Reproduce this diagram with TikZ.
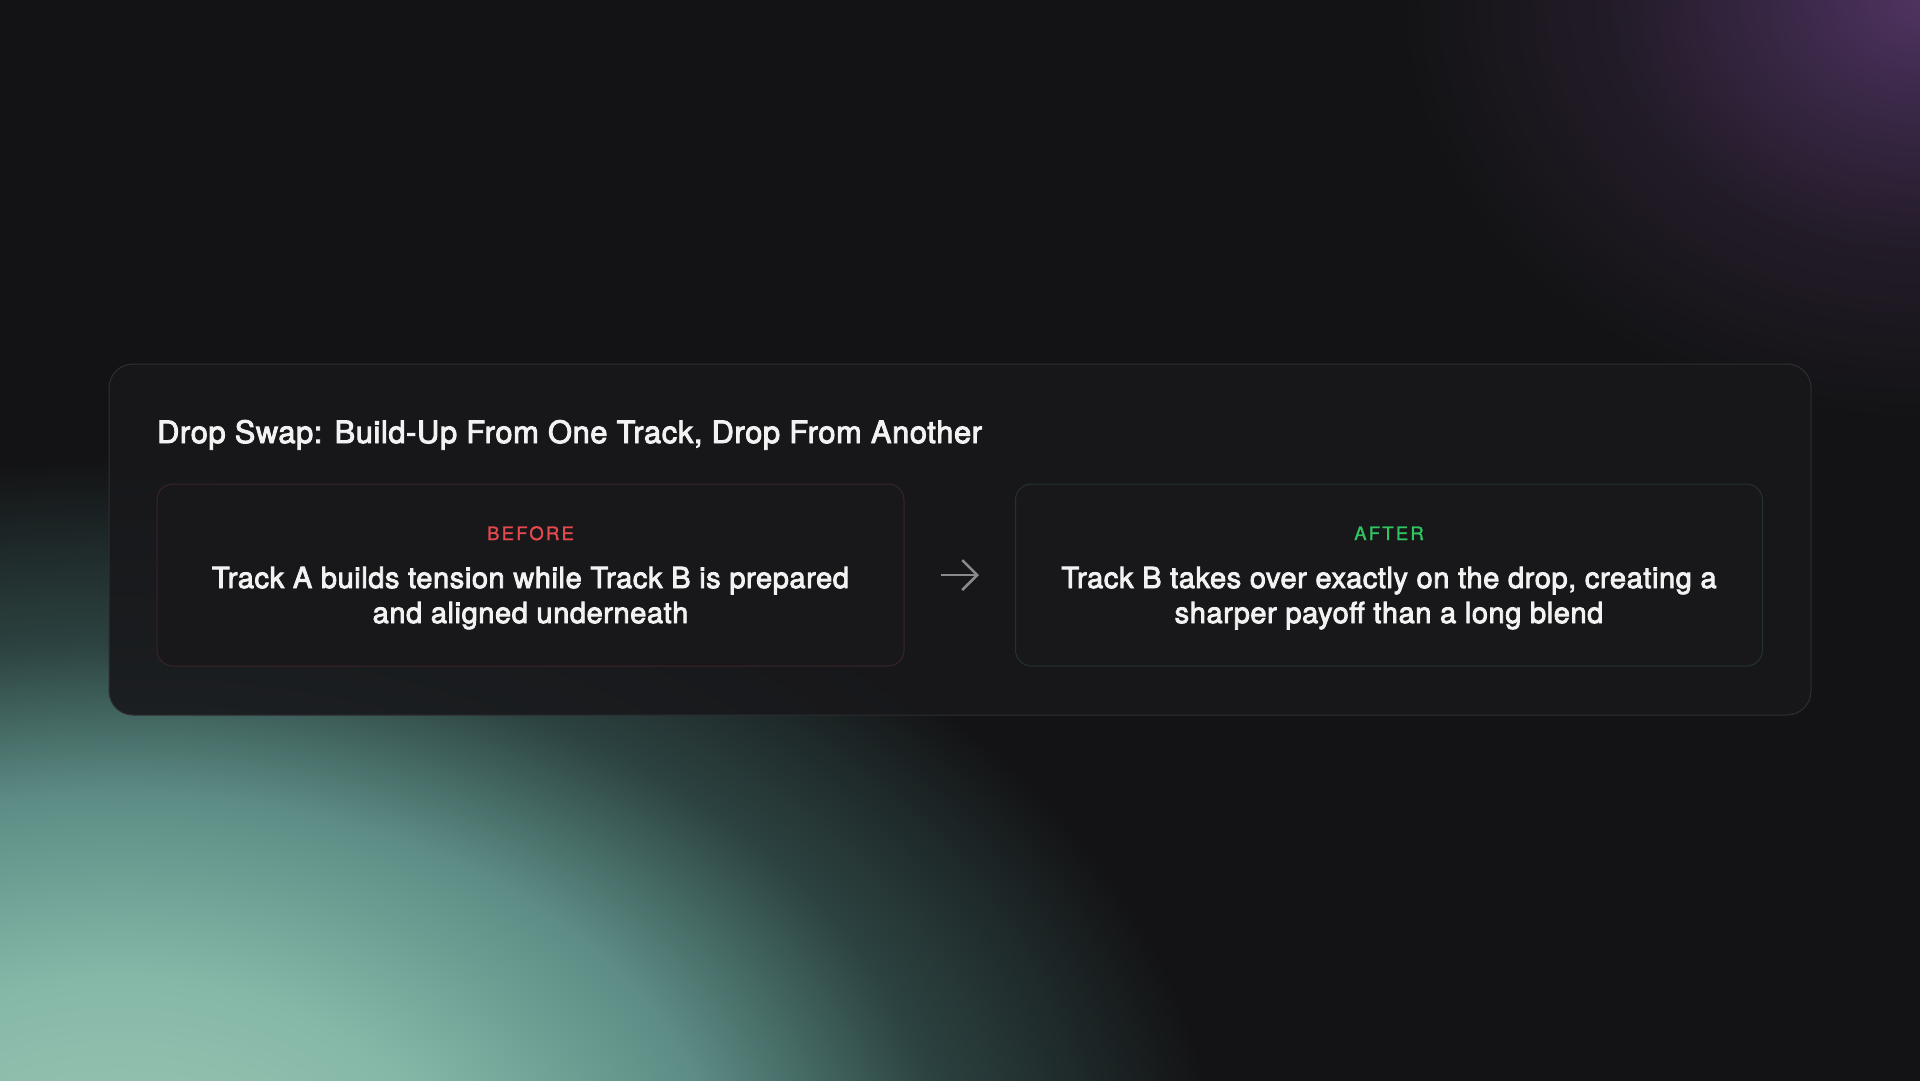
\documentclass[tikz,border=0pt]{standalone}
\usepackage{fontspec}
\setmainfont{TeX Gyre Heros}
\newfontfamily\headfont[FakeBold=3,LetterSpace=2]{TeX Gyre Heros}
\newfontfamily\tagfont[LetterSpace=12,FakeBold=1.5]{TeX Gyre Heros}
\usetikzlibrary{positioning,arrows.meta}

\definecolor{bgdark}{HTML}{131315}
\definecolor{panelfill}{HTML}{18181B}
\definecolor{panelline}{HTML}{2E2E33}
\definecolor{beforeline}{HTML}{3A2429}
\definecolor{afterline}{HTML}{243330}
\definecolor{beforered}{HTML}{E5484D}
\definecolor{aftergreen}{HTML}{30C462}
\definecolor{arrowgray}{HTML}{8A8A8E}
\definecolor{textwhite}{HTML}{F2F2F2}
\definecolor{mint}{HTML}{9DC8B3}
\definecolor{mintb}{HTML}{86B8A8}
\definecolor{tealmid}{HTML}{5C8C84}
\definecolor{tealdark}{HTML}{2C4341}
\definecolor{plum}{HTML}{4F3360}
\definecolor{plumb}{HTML}{382745}
\definecolor{plumc}{HTML}{221B27}

% the ellipse edge sits at 25bp of the shading
\pgfdeclareradialshading{tealglow}{\pgfpoint{0bp}{0bp}}{%
  color(0bp)=(mint); color(7.5bp)=(mintb); color(13.75bp)=(tealmid);
  color(18.75bp)=(tealdark); color(25bp)=(bgdark); color(50bp)=(bgdark)}
\pgfdeclareradialshading{plumglow}{\pgfpoint{0bp}{0bp}}{%
  color(0bp)=(plum); color(7bp)=(plumb); color(15bp)=(plumc);
  color(25bp)=(bgdark); color(50bp)=(bgdark)}

\tikzset{
  panel/.style={draw=panelline, line width=1pt, fill=panelfill, fill opacity=0.9,
    rounded corners=24pt, minimum width=1702pt, minimum height=351pt, inner sep=0pt},
  stepbox/.style={line width=1pt, fill=panelfill, rounded corners=16pt,
    minimum width=747pt, minimum height=182pt, inner sep=0pt},
  titletext/.style={text=textwhite, font=\headfont\fontsize{30.8}{36}\selectfont, inner sep=0pt},
  tagtext/.style={font=\tagfont\fontsize{18.5}{22}\selectfont, inner sep=0pt},
  bodytext/.style={text=textwhite, font=\headfont\fontsize{29}{35}\selectfont,
    align=center, inner sep=0pt},
  flowarrow/.style={draw=arrowgray, line width=2.5pt,
    -{Straight Barb[length=15pt,width=30pt,line width=2.5pt]},
    shorten <=36pt, shorten >=36pt}
}

\begin{document}
\begin{tikzpicture}[x=1pt,y=-1pt]
\useasboundingbox (0,0) rectangle (1920,1080);
% backdrop and glows
\fill[bgdark] (-4,-4) rectangle (1924,1084);
\begin{scope}
\clip (-4,-4) rectangle (1924,1084);
\shade[shading=tealglow] (120,1200) ellipse [x radius=1100, y radius=740];
\shade[shading=plumglow] (1920,0) ellipse [x radius=520, y radius=420];
\end{scope}

% card
\node[panel] (panel) at (960,539.5) {};
\node[titletext, anchor=base west] (title) at (157,443)
  {Drop Swap: Build-Up From One Track, Drop From Another};

\node[stepbox, draw=beforeline] (before) at (530.5,575) {};
\node[stepbox, draw=afterline] (after) at (1389,575) {};

\node[tagtext, text=beforered, anchor=base] (beforetag) at (530.5,540) {BEFORE};
\node[tagtext, text=aftergreen, anchor=base] (aftertag) at (1389,540) {AFTER};

\node[bodytext, anchor=base] (beforebody) at (530.5,623)
  {Track A builds tension while Track B is prepared\\and aligned underneath};
\node[bodytext, anchor=base] (afterbody) at (1389,623)
  {Track B takes over exactly on the drop, creating a\\sharper payoff than a long blend};

\draw[flowarrow] (before) -- (after);
\end{tikzpicture}
\end{document}
